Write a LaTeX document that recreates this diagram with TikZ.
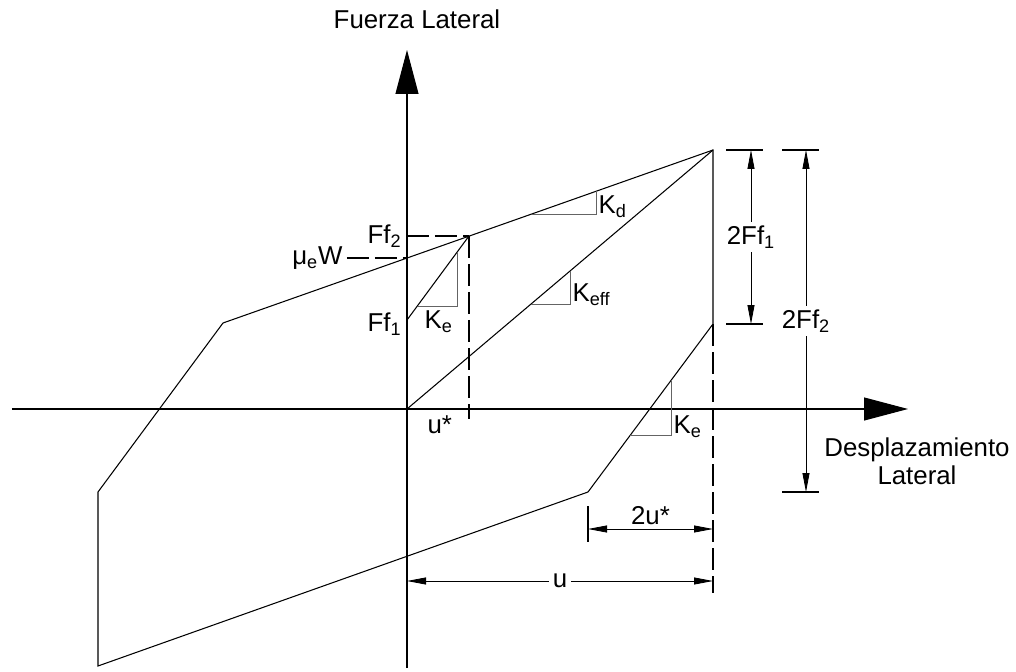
\documentclass[tikz,border=0pt]{standalone}
\usepackage{fontspec}
\setmainfont{Liberation Sans}
\usepackage{tikz}
\usetikzlibrary{arrows.meta,positioning}
\definecolor{slopegray}{RGB}{100,100,100}

\tikzset{
  axis/.style={line width=0.6pt,-{Triangle[length=0.88cm,width=0.46cm]}},
  dimline/.style={line width=0.5pt,{Triangle[length=0.38cm,width=0.14cm]}-{Triangle[length=0.38cm,width=0.14cm]}},
  hidden/.style={line width=0.6pt,dash pattern=on 0.44cm off 0.12cm},
  slope/.style={line width=0.5pt,draw=slopegray},
  lbl/.style={inner sep=0pt}
}

\begin{document}
\begin{tikzpicture}[line width=0.6pt,every node/.style={font=\fontsize{14.7}{16}\selectfont}]
\useasboundingbox (-8.14,-5.24) rectangle (12.18,8.18);
% ejes
\coordinate (yb) at (0,-5.18);
\coordinate (yt) at (0,7.18);
\coordinate (xl) at (-7.9,0);
\coordinate (xr) at (10.02,0);
\draw[axis] (yb) -- (yt);
\draw[axis] (xl) -- (xr);
\node (ylab) at (0.2,7.8) {Fuerza Lateral};
\node[align=center] (xlab) at (10.2,-1.04) {Desplazamiento\\Lateral};
% lazo de histeresis
\coordinate (O)  at (0,0);
\coordinate (T)  at (6.12,5.18);
\coordinate (P2) at (1.24,3.46);
\coordinate (W)  at (0,3.02);
\coordinate (F1) at (0,1.78);
\coordinate (F2) at (0,3.46);
\coordinate (A)  at (-3.68,1.72);
\coordinate (B)  at (-6.18,-1.66);
\coordinate (C)  at (-6.18,-5.14);
\coordinate (D)  at (3.62,-1.66);
\coordinate (E)  at (6.12,1.70);
\draw (A) -- (T) -- (E) -- (D) -- (C) -- (B) -- cycle;
\draw (O) -- (T);
\draw (F1) -- (P2);
% lineas de referencia
\coordinate (Wl) at (-1.2,3.02);
\coordinate (us) at (1.24,-0.2);
\coordinate (Eb) at (6.12,-3.68);
\draw[hidden] (F2) -- (P2);
\draw[hidden] (Wl) -- (W);
\draw[hidden] (P2) -- (us);
\draw[hidden] (E) -- (Eb);
% triangulos de rigidez
\draw[slope] (0.21,2.06) -- (1.0,2.06) -- (1.0,3.135);
\draw[slope] (2.49,3.90) -- (3.78,3.90) -- (3.78,4.354);
\draw[slope] (2.48,2.10) -- (3.26,2.10) -- (3.26,2.759);
\draw[slope] (4.468,-0.52) -- (5.28,-0.52) -- (5.28,0.571);
% etiquetas
\node[lbl,anchor=east]       (lF2)  at (-0.1,3.46)  {Ff\textsubscript{2}};
\node[lbl,anchor=east]       (lW)   at (-1.28,3.02) {μ\textsubscript{e}W};
\node[lbl,anchor=east]       (lF1)  at (-0.1,1.70)  {Ff\textsubscript{1}};
\node[lbl,anchor=north west] (lKe)  at (0.34,1.98)  {K\textsubscript{e}};
\node[lbl,anchor=west]       (lKd)  at (3.82,4.04)  {K\textsubscript{d}};
\node[lbl,anchor=west]       (lKef) at (3.30,2.28)  {K\textsubscript{eff}};
\node[lbl,anchor=west]       (lKe2) at (5.32,-0.36) {K\textsubscript{e}};
\node[lbl,anchor=north west] (lus)  at (0.40,-0.12) {u*};
% cotas verticales
\coordinate (d1t) at (6.88,5.18);
\coordinate (d1b) at (6.88,1.70);
\coordinate (d2t) at (7.98,5.18);
\coordinate (d2b) at (7.98,-1.66);
\draw (6.38,5.18) -- (7.12,5.18);
\draw (6.38,1.70) -- (7.12,1.70);
\draw (7.50,5.18) -- (8.24,5.18);
\draw (7.50,-1.66) -- (8.24,-1.66);
\draw[dimline] (d1b) -- node[fill=white,inner sep=2pt] (l2F1) {2Ff\textsubscript{1}} (d1t);
\draw[dimline] (d2b) -- node[fill=white,inner sep=2pt] (l2F2) {2Ff\textsubscript{2}} (d2t);
% cotas horizontales
\coordinate (c1l) at (3.62,-2.4);
\coordinate (c1r) at (6.12,-2.4);
\coordinate (c2l) at (0,-3.44);
\coordinate (c2r) at (6.12,-3.44);
\draw (3.62,-1.94) -- (3.62,-2.66);
\draw[dimline] (c1l) -- node[above,inner sep=2pt] (l2u) {2u*} (c1r);
\draw[dimline] (c2l) -- node[fill=white,inner sep=2pt] (lu) {u} (c2r);
\end{tikzpicture}
\end{document}
